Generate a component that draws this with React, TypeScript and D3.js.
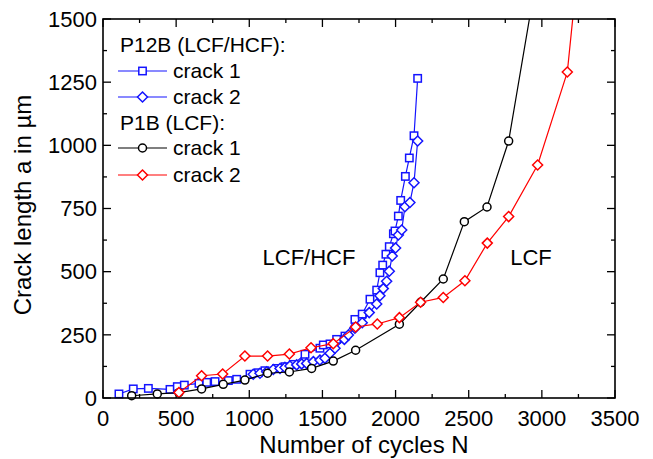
import React from "react";
import * as d3 from "d3";

const xTicks = [0, 500, 1000, 1500, 2000, 2500, 3000, 3500];
const yTicks = [0, 250, 500, 750, 1000, 1250, 1500];

// P12B crack 1 (blue squares)
const p12bC1N = [109, 207, 310, 458, 508, 556, 656, 709, 766, 857, 914, 1005, 1062, 1107, 1187, 1244, 1301, 1381, 1483, 1506, 1552, 1597, 1654, 1722, 1772, 1825, 1871, 1893, 1912, 1934, 1957, 1985, 1996, 2019, 2035, 2067, 2094, 2126, 2151];
const p12bC1A = [16, 36, 38, 34, 45, 51, 58, 62, 65, 69, 74, 94, 100, 108, 117, 124, 133, 173, 197, 210, 214, 232, 245, 311, 332, 391, 427, 496, 526, 569, 599, 650, 661, 720, 782, 877, 950, 1038, 1265];

// P12B crack 2 (blue diamonds)
const p12bC2N = [1027, 1073, 1119, 1164, 1210, 1244, 1278, 1324, 1358, 1392, 1438, 1483, 1517, 1552, 1586, 1650, 1677, 1722, 1772, 1820, 1871, 1893, 1916, 1939, 1957, 1977, 2000, 2019, 2042, 2064, 2098, 2126, 2151];
const p12bC2A = [94, 98, 104, 113, 117, 121, 127, 131, 135, 137, 144, 150, 157, 177, 197, 232, 249, 276, 298, 338, 372, 405, 433, 462, 502, 562, 594, 645, 665, 757, 774, 852, 1017];

// P1B crack 1 (black circles)
const p1bC1N = [196, 371, 519, 674, 822, 970, 1125, 1274, 1426, 1574, 1727, 2026, 2171, 2326, 2470, 2625, 2773, 2950];
const p1bC1A = [9, 16, 21, 36, 54, 71, 98, 103, 117, 146, 189, 292, 379, 471, 698, 756, 1017, 1620];

// P1B crack 2 (red diamonds)
const p1bC2N = [519, 674, 818, 970, 1125, 1274, 1422, 1574, 1727, 1875, 2026, 2171, 2326, 2474, 2627, 2773, 2971, 3174, 3260];
const p1bC2A = [22, 88, 95, 166, 166, 174, 199, 215, 281, 293, 318, 379, 398, 464, 613, 718, 922, 1290, 1780];

const W = 653, H = 459;
const L = 103, R = 615, T = 19, B = 398;
const FONT = "'Liberation Sans', Arial, sans-serif";
const BLUE = "#1414ff";
const RED = "#ff0000";

const x = d3.scaleLinear().domain([0, 3500]).range([L, R]);
const y = d3.scaleLinear().domain([0, 1500]).range([B, T]);

type Shape = "square" | "diamond" | "circle";

function Marker({ cx, cy, shape, color }: { cx: number; cy: number; shape: Shape; color: string }) {
  if (shape === "square") {
    return <rect x={cx - 3.7} y={cy - 3.7} width={7.4} height={7.4} fill="white" stroke={color} strokeWidth={1.5} />;
  }
  if (shape === "circle") {
    return <circle cx={cx} cy={cy} r={4} fill="white" stroke={color} strokeWidth={1.5} />;
  }
  const s = 5;
  return (
    <path d={`M${cx},${cy - s}L${cx + s},${cy}L${cx},${cy + s}L${cx - s},${cy}Z`} fill="white" stroke={color} strokeWidth={1.5} />
  );
}

function Series({ ns, as, shape, color }: { ns: number[]; as: number[]; shape: Shape; color: string }) {
  const pts = ns.map((n, i) => [x(n), y(as[i])] as [number, number]);
  const line = d3.line()(pts) || "";
  return (
    <g clipPath="url(#plotclip)">
      <path d={line} fill="none" stroke={color} strokeWidth={1.2} />
      {pts.map((p, i) => (
        <Marker key={i} cx={p[0]} cy={p[1]} shape={shape} color={color} />
      ))}
    </g>
  );
}

export default function App() {
  const xMinor = d3.range(0, 3501, 250);
  const yMinor = d3.range(0, 1501, 125);
  const legendRows = [
    { y: 71, shape: "square" as Shape, color: BLUE, label: "crack 1" },
    { y: 97, shape: "diamond" as Shape, color: BLUE, label: "crack 2" },
    { y: 148, shape: "circle" as Shape, color: "black", label: "crack 1" },
    { y: 175, shape: "diamond" as Shape, color: RED, label: "crack 2" },
  ];
  return (
    <svg width={W} height={H} style={{ position: "absolute", left: 0, top: 0, background: "white" }} fontFamily={FONT}>
      <defs>
        <clipPath id="plotclip">
          <rect x={L - 8} y={T} width={R - L + 16} height={B - T + 8} />
        </clipPath>
      </defs>
      <rect x={0} y={0} width={W} height={H} fill="white" />

      {xMinor.map((v) => {
        const major = v % 500 === 0;
        const len = major ? 8 : 4;
        return (
          <g key={"xt" + v}>
            <line x1={x(v)} x2={x(v)} y1={B} y2={B - len} stroke="black" strokeWidth={1.3} />
            <line x1={x(v)} x2={x(v)} y1={T} y2={T + len} stroke="black" strokeWidth={1.3} />
          </g>
        );
      })}
      {yMinor.map((v) => {
        const major = v % 250 === 0;
        const len = major ? 8 : 4;
        return (
          <g key={"yt" + v}>
            <line x1={L} x2={L + len} y1={y(v)} y2={y(v)} stroke="black" strokeWidth={1.3} />
            <line x1={R} x2={R - len} y1={y(v)} y2={y(v)} stroke="black" strokeWidth={1.3} />
          </g>
        );
      })}

      <Series ns={p12bC1N} as={p12bC1A} shape="square" color={BLUE} />
      <Series ns={p12bC2N} as={p12bC2A} shape="diamond" color={BLUE} />
      <Series ns={p1bC1N} as={p1bC1A} shape="circle" color="black" />
      <Series ns={p1bC2N} as={p1bC2A} shape="diamond" color={RED} />

      <rect x={L} y={T} width={R - L} height={B - T} fill="none" stroke="black" strokeWidth={1.6} />

      {xTicks.map((v) => (
        <text key={"xl" + v} x={x(v)} y={426} fontSize={22} textAnchor="middle">{v}</text>
      ))}
      {yTicks.map((v) => (
        <text key={"yl" + v} x={97} y={y(v) + 7.8} fontSize={22} textAnchor="end">{v}</text>
      ))}

      <text x={364} y={453} fontSize={24} textAnchor="middle">Number of cycles N</text>
      <text transform={`translate(31,205) rotate(-90)`} fontSize={24} textAnchor="middle">Crack length a in µm</text>

      <text x={309} y={265} fontSize={22} textAnchor="middle">LCF/HCF</text>
      <text x={531} y={265} fontSize={22} textAnchor="middle">LCF</text>

      <text x={120} y={52} fontSize={21}>P12B (LCF/HCF):</text>
      <text x={120} y={130} fontSize={21}>P1B (LCF):</text>
      {legendRows.map((r, i) => (
        <g key={"lg" + i}>
          <line x1={118} x2={167} y1={r.y} y2={r.y} stroke={r.color} strokeWidth={1.2} />
          <Marker cx={142.5} cy={r.y} shape={r.shape} color={r.color} />
          <text x={173} y={r.y + 6.5} fontSize={21}>{r.label}</text>
        </g>
      ))}
    </svg>
  );
}
